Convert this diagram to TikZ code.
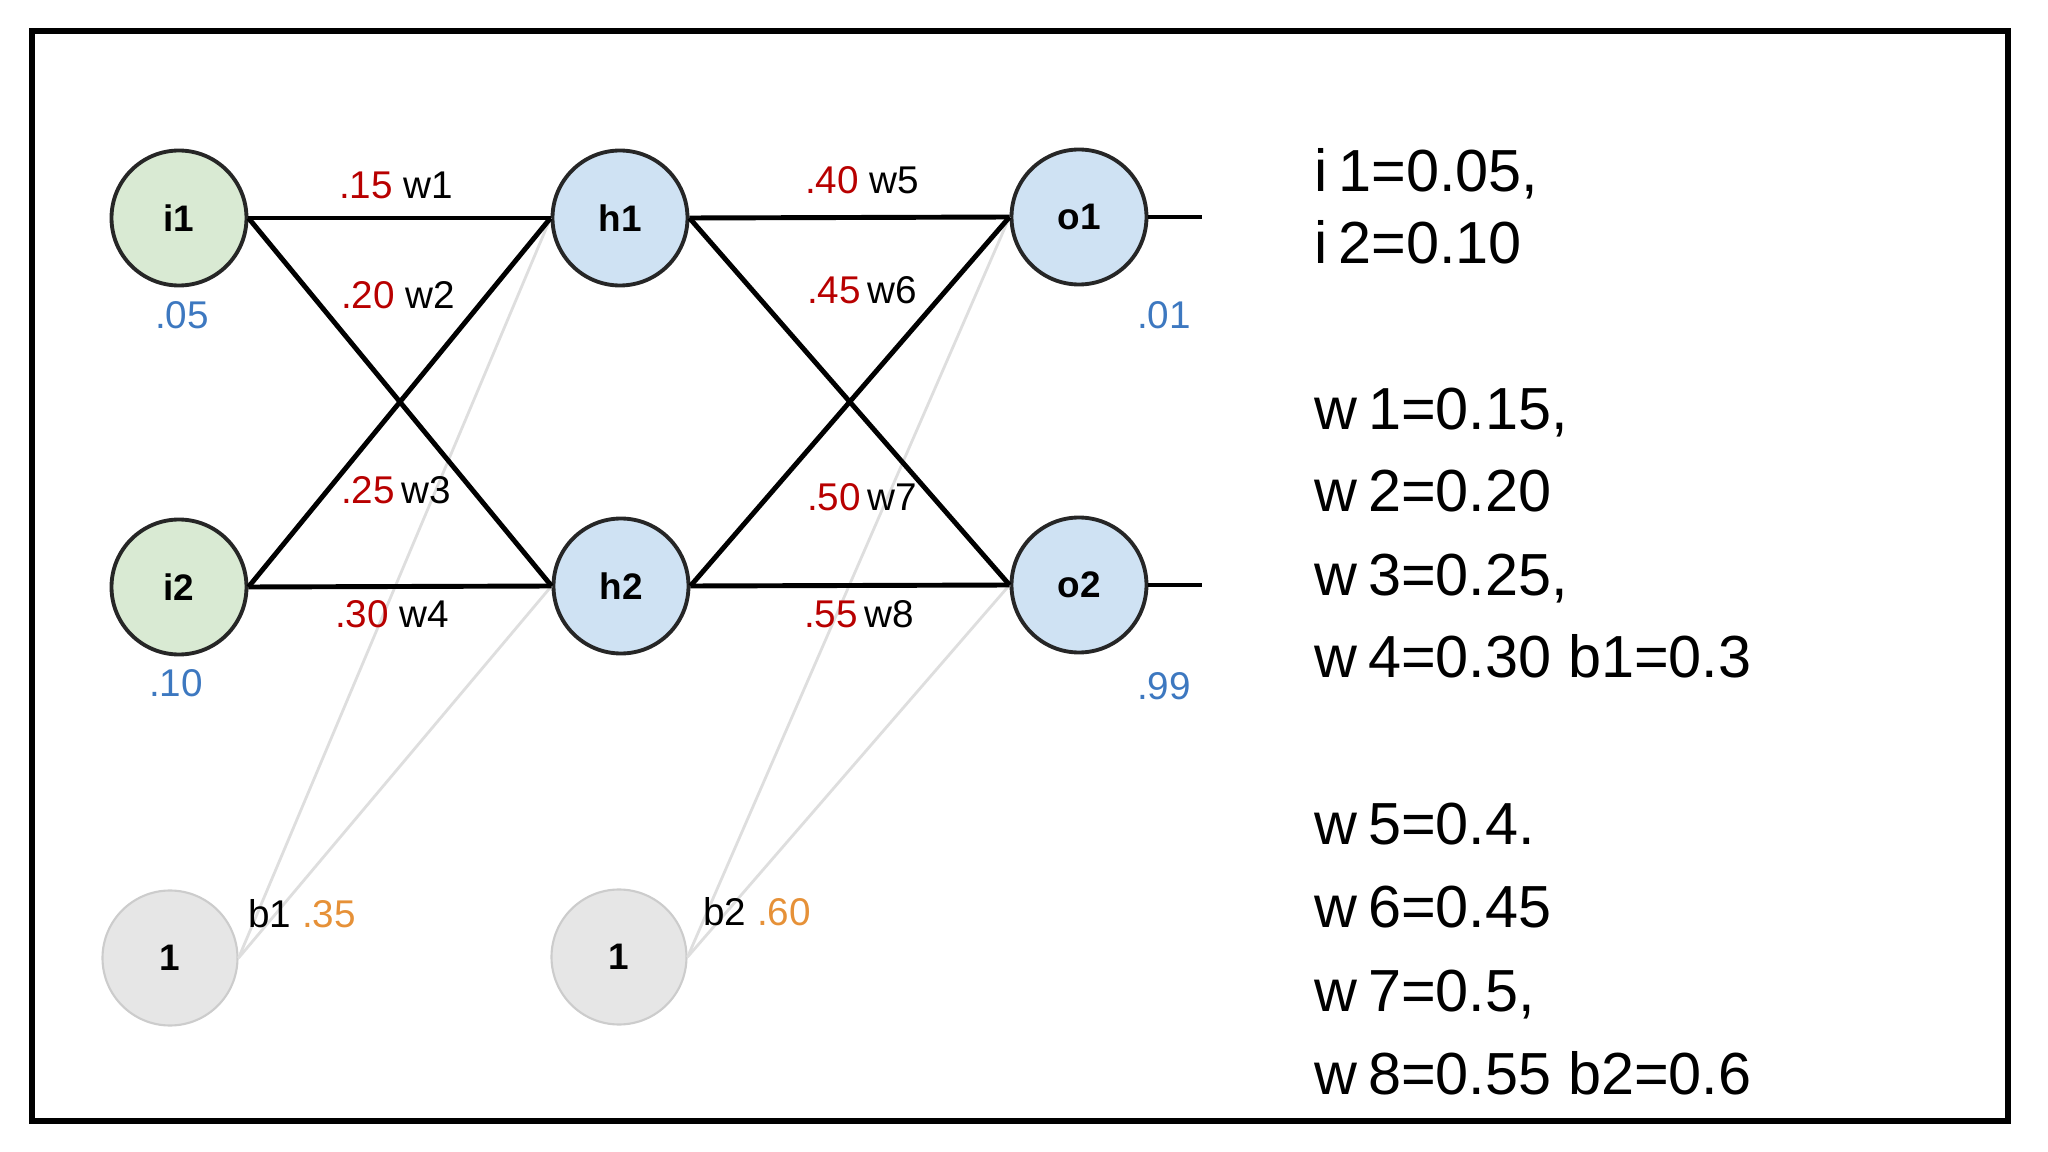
\documentclass[tikz,border=0pt]{standalone}
\usepackage{fontspec}
\setmainfont{Liberation Sans}
\usepackage{xcolor}
\usetikzlibrary{positioning}

\definecolor{ingreen}{HTML}{D9EAD3}
\definecolor{nblue}{HTML}{CFE2F3}
\definecolor{biasgray}{HTML}{E6E6E6}
\definecolor{wred}{HTML}{B80000}
\definecolor{vblue}{HTML}{3D78C0}
\definecolor{borange}{HTML}{E69138}

\tikzset{
  neuron/.style={circle, draw=black!85, line width=1.1pt, minimum size=1.35cm, inner sep=0pt,
                 font=\bfseries\fontsize{10.5}{12}\selectfont},
  inneuron/.style={neuron, fill=ingreen},
  hidneuron/.style={neuron, fill=nblue},
  biasneuron/.style={neuron, fill=biasgray, draw=black!20, line width=0.6pt},
  wline/.style={line width=1.4pt},
  bline/.style={draw=black!13, line width=0.8pt},
  wlabel/.style={font=\fontsize{11}{12}\selectfont, inner sep=0pt},
  vlabel/.style={wlabel, text=vblue},
  given/.style={anchor=base west, inner sep=0pt, font=\fontsize{16.9}{20}\selectfont}
}
\newcommand{\wv}[2]{{\color{wred}#1}\ #2}
\newcommand{\ls}{\hspace{0.18em}}

\begin{document}
\begin{tikzpicture}
    \useasboundingbox (0,0) rectangle (20.48,-11.52);
    \draw[line width=1.7pt] (0.32,-0.31) rectangle (20.08,-11.21);   %frame

    % neurons
    \node[inneuron] (i1) at (1.79,-2.18) {i1};
    \node[inneuron] (i2) at (1.79,-5.87) {i2};
    \node[hidneuron] (h1) at (6.20,-2.18) {h1};
    \node[hidneuron] (h2) at (6.21,-5.86) {h2};
    \node[hidneuron] (o1) at (10.79,-2.17) {o1};
    \node[hidneuron] (o2) at (10.79,-5.85) {o2};
    \node[biasneuron] (b1) at (1.70,-9.58) {1};
    \node[biasneuron] (b2) at (6.19,-9.57) {1};
    \coordinate (out1) at (12.02,-2.17);
    \coordinate (out2) at (12.02,-5.85);

    % bias connections
    \draw[bline] (b1.east) -- (h1.west);
    \draw[bline] (b1.east) -- (h2.west);
    \draw[bline] (b2.east) -- (o1.west);
    \draw[bline] (b2.east) -- (o2.west);

    % weights
    \draw[wline] (i1.east) -- (h1.west);   %w1
    \draw[wline] (i1.east) -- (h2.west);   %w2
    \draw[wline] (i2.east) -- (h1.west);   %w3
    \draw[wline] (i2.east) -- (h2.west);   %w4
    \draw[wline] (h1.east) -- (o1.west);   %w5
    \draw[wline] (h1.east) -- (o2.west);   %w6
    \draw[wline] (h2.east) -- (o1.west);   %w7
    \draw[wline] (h2.east) -- (o2.west);   %w8
    \draw[wline] (o1.east) -- (out1);
    \draw[wline] (o2.east) -- (out2);

    % weight labels
    \node[wlabel] (lw1) at (3.96,-1.85) {\wv{.15}{w1}};
    \node[wlabel] (lw2) at (3.98,-2.95) {\wv{.20}{w2}};
    \node[wlabel] (lw3) at (3.96,-4.90) {{\color{wred}.25}\,w3};
    \node[wlabel] (lw4) at (3.92,-6.14) {\wv{.30}{w4}};
    \node[wlabel] (lw5) at (8.62,-1.80) {\wv{.40}{w5}};
    \node[wlabel] (lw6) at (8.62,-2.90) {{\color{wred}.45}\,w6};
    \node[wlabel] (lw7) at (8.62,-4.97) {{\color{wred}.50}\,w7};
    \node[wlabel] (lw8) at (8.59,-6.14) {{\color{wred}.55}\,w8};
    \node[wlabel] (lb1) at (3.02,-9.14) {b1 {\color{borange}.35}};
    \node[wlabel] (lb2) at (7.57,-9.12) {b2 {\color{borange}.60}};

    % values
    \node[vlabel] (vi1) at (1.82,-3.15) {.05};
    \node[vlabel] (vi2) at (1.76,-6.83) {.10};
    \node[vlabel] (vo1) at (11.64,-3.15) {.01};
    \node[vlabel] (vo2) at (11.64,-6.86) {.99};

    % given values
    \node[given] (t1) at (13.14,-1.92) {i\ls1=0.05,};
    \node[given] (t2) at (13.14,-2.64) {i\ls2=0.10};
    \node[given] (t3) at (13.14,-4.30) {w\ls1=0.15,};
    \node[given] (t4) at (13.14,-5.12) {w\ls2=0.20};
    \node[given] (t5) at (13.14,-5.96) {w\ls3=0.25,};
    \node[given] (t6) at (13.14,-6.78) {w\ls4=0.30 b1=0.3};
    \node[given] (t7) at (13.14,-8.45) {w\ls5=0.4.};
    \node[given] (t8) at (13.14,-9.27) {w\ls6=0.45};
    \node[given] (t9) at (13.14,-10.11) {w\ls7=0.5,};
    \node[given] (t10) at (13.14,-10.95) {w\ls8=0.55 b2=0.6};
\end{tikzpicture}
\end{document}
